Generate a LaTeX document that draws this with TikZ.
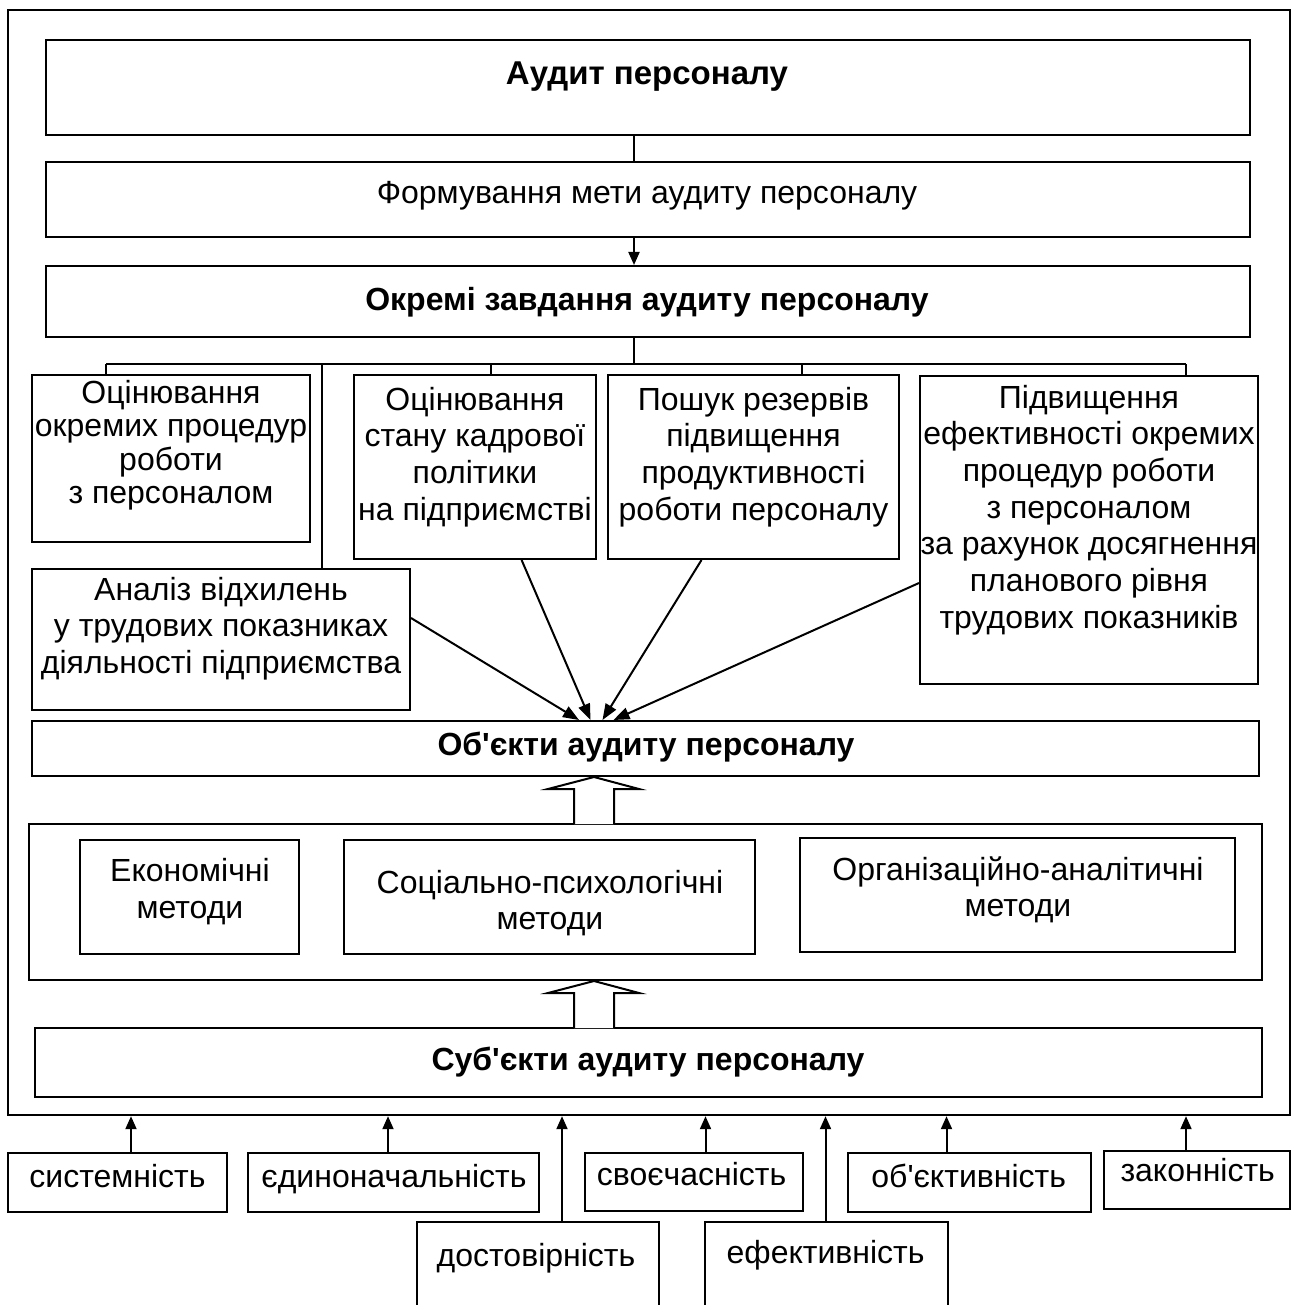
\documentclass[tikz,border=0pt]{standalone}
\usepackage{fontspec}
\setmainfont{Liberation Sans}[Ligatures=TeXOff]
\usetikzlibrary{fit,arrows.meta,calc}

\begin{document}
\begin{tikzpicture}[x=1pt,y=-1pt,
  box/.style={draw, line width=2pt, inner sep=0pt},
  frm/.style={draw, line width=2.4pt, inner sep=0pt},
  reg/.style={inner sep=0pt, align=center, font=\fontsize{32}{36.7}\selectfont},
  regA/.style={inner sep=0pt, align=center, font=\fontsize{32}{33}\selectfont},
  bld/.style={inner sep=0pt, font=\fontsize{32}{36}\selectfont\bfseries},
  wire/.style={line width=2pt},
  arr/.style={line width=2pt, -{Triangle[length=13pt,width=11pt]}},
  bigarr/.style={line width=2pt, -{Triangle[length=16pt,width=12pt]}},
  hollow/.style={line width=2pt, fill=white, line join=miter}
]
\useasboundingbox (0,0) rectangle (1294,1305);
\clip (0,0) rectangle (1294,1305);

% outer frame
\node[frm, fit={(8,10) (1290,1115)}] (frame) {};

% goal chain
\node[box, fit={(46,40) (1250,135)}] (audit) {};
\node[box, fit={(46,162) (1250,237)}] (form) {};
\node[box, fit={(46,266) (1250,337)}] (tasks) {};
\node[bld, anchor=base, font=\fontsize{33}{36}\selectfont\bfseries] (audit-t) at (647,84.3) {Аудит персоналу};
\node[reg, anchor=base] (form-t) at (647,204) {Формування мети аудиту персоналу};
\node[bld, anchor=base] (tasks-t) at (647,310) {Окремі завдання аудиту персоналу};

% individual tasks
\node[box, fit={(32,375) (310,542)}] (a1) {};
\node[box, fit={(354,375) (596,559)}] (bb) {};
\node[box, fit={(608,375) (899,559)}] (cc) {};
\node[box, fit={(920,376) (1258,684)}] (dd) {};
\node[box, fit={(32,569) (410,710)}] (a2) {};

\node[regA, anchor=north] (a1-t) at (171,379.9)
  {\strut Оцінювання\\\strut окремих процедур\\\strut роботи\\\strut з персоналом};
\node[reg, anchor=north] (bb-t) at (475,384.3)
  {\strut Оцінювання\\\strut стану кадрової\\\strut політики\\\strut на підприємстві};
\node[reg, anchor=north] (cc-t) at (753.5,384.3)
  {\strut Пошук резервів\\\strut підвищення\\\strut продуктивності\\\strut роботи персоналу};
\node[reg, anchor=north] (dd-t) at (1089,382.3)
  {\strut Підвищення\\\strut ефективності окремих\\\strut процедур роботи\\\strut з персоналом\\\strut за рахунок досягнення\\\strut планового рівня\\\strut трудових показників};
\node[reg, anchor=north] (a2-t) at (221,574.3)
  {\strut Аналіз відхилень\\\strut у трудових показниках\\\strut діяльності підприємства};

% objects, methods, subjects
\node[box, fit={(32,721) (1259,776)}] (obj) {};
\node[bld, anchor=base] (obj-t) at (646,755) {Об'єкти аудиту персоналу};

\node[box, fit={(29,824) (1262,980)}] (meth) {};
\node[box, fit={(80,840) (299,954)}] (econ) {};
\node[box, fit={(344,840) (755,954)}] (soc) {};
\node[box, fit={(800,838) (1235,952)}] (org) {};
\node[reg, anchor=north] (econ-t) at (190,856) {\strut Економічні\\\strut методи};
\node[reg, anchor=north] (soc-t) at (550,867.3) {\strut Соціально-психологічні\\\strut методи};
\node[reg, anchor=north] (org-t) at (1018,854.3) {\strut Організаційно-аналітичні\\\strut методи};

\node[box, fit={(35,1028) (1262,1097)}] (subj) {};
\node[bld, anchor=base] (subj-t) at (648,1070) {Суб'єкти аудиту персоналу};

% principles
\node[box, fit={(7.5,1153) (227,1212)}] (p1) {};
\node[box, fit={(248,1153) (539,1212)}] (p2) {};
\node[box, fit={(417,1222) (659,1330)}] (p3) {};
\node[box, fit={(585,1153) (803,1211)}] (p4) {};
\node[box, fit={(705,1222) (948,1330)}] (p5) {};
\node[box, fit={(848,1153) (1091,1212)}] (p6) {};
\node[box, fit={(1104,1151) (1290,1209)}] (p7) {};
\node[reg, anchor=base] (p1-t) at (117.5,1187) {системність};
\node[reg, anchor=base] (p2-t) at (394,1187) {єдиноначальність};
\node[reg, anchor=base] (p3-t) at (536,1266.7) {достовірність};
\node[reg, anchor=base] (p4-t) at (691.6,1185) {своєчасність};
\node[reg, anchor=base] (p5-t) at (825.6,1263) {ефективність};
\node[reg, anchor=base] (p6-t) at (968.7,1187) {об'єктивність};
\node[reg, anchor=base] (p7-t) at (1197.7,1181.7) {законність};

% connectors of the upper chain
\coordinate (axis) at (634,0);
\draw[wire] (audit.south -| axis) -- (form.north -| axis);
\draw[arr] (form.south -| axis) -- (tasks.north -| axis);

% distribution bus to the individual tasks
\coordinate (busL) at (106,364);
\coordinate (busR) at (1186,364);
\coordinate (dA2) at (322,364);
\coordinate (dB) at (490.5,364);
\coordinate (dC) at (802,364);
\draw[wire] (tasks.south -| axis) -- (busL -| axis);
\draw[wire] (busL) -- (busR);
\draw[wire] (busL) -- (busL |- a1.north);
\draw[wire] (dA2) -- (dA2 |- a2.north);
\draw[wire] (dB) -- (dB |- bb.north);
\draw[wire] (dC) -- (dC |- cc.north);
\draw[wire] (busR) -- (busR |- dd.north);

% tasks converge on the objects
\draw[bigarr] ([yshift=21.5pt]a2.east) -- ([xshift=-66.5pt]obj.north);
\draw[bigarr] ([xshift=46.6pt]bb.south) -- ([xshift=-55pt]obj.north);
\draw[bigarr] ([xshift=-52pt]cc.south) -- ([xshift=-43pt]obj.north);
\draw[bigarr] ([yshift=-53pt]dd.west) -- ([xshift=-32pt]obj.north);

% hollow block arrows
\draw[hollow] (574,824) -- (574,789) -- (548,789) -- (594,777) -- (639,789) -- (614,789) -- (614,824);
\draw[hollow] (574,1028) -- (574,993) -- (548,993) -- (594,981) -- (639,993) -- (614,993) -- (614,1028);

% principles feed the whole system
\draw[arr] ([xshift=13.75pt]p1.north) -- ([xshift=13.75pt]p1.north |- frame.south);
\draw[arr] ([xshift=-5.5pt]p2.north) -- ([xshift=-5.5pt]p2.north |- frame.south);
\draw[arr] ([xshift=24pt]p3.north) -- ([xshift=24pt]p3.north |- frame.south);
\draw[arr] ([xshift=11.5pt]p4.north) -- ([xshift=11.5pt]p4.north |- frame.south);
\draw[arr] ([xshift=-1pt]p5.north) -- ([xshift=-1pt]p5.north |- frame.south);
\draw[arr] ([xshift=-23pt]p6.north) -- ([xshift=-23pt]p6.north |- frame.south);
\draw[arr] ([xshift=-11pt]p7.north) -- ([xshift=-11pt]p7.north |- frame.south);
\end{tikzpicture}
\end{document}
